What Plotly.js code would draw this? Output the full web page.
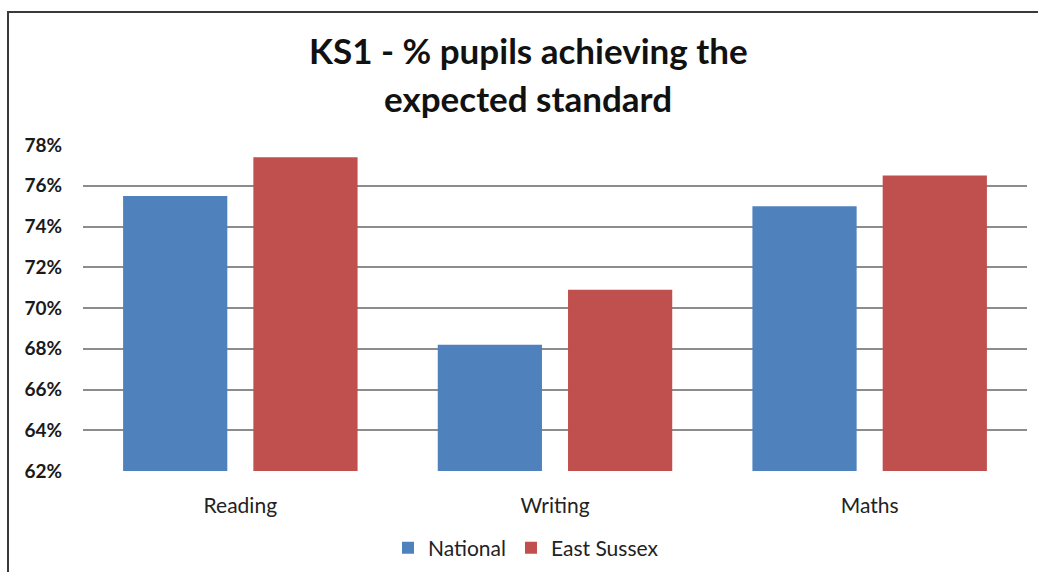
<!DOCTYPE html>
<html>
<head>
<meta charset="utf-8">
<script src="https://cdn.plot.ly/plotly-3.0.1.min.js"></script>
<style>
html,body{margin:0;padding:0;background:#fff;}
#chart{width:1038px;height:572px;}
</style>
</head>
<body>
<div id="chart"></div>
<script>
const categories = ["Reading", "Writing", "Maths"];
const nationalValues = [0.755, 0.682, 0.750];
const eastSussexValues = [0.774, 0.709, 0.765];
const seriesNames = ["National", "East Sussex"];
const yTickValues = [0.62, 0.64, 0.66, 0.68, 0.70, 0.72, 0.74, 0.76, 0.78];
const titleLines = ["KS1 - % pupils achieving the", "expected standard"];

const W = 1038, H = 572;
const L = 83, R = 11, T = 145, B = 101;
const pw = W - L - R, ph = H - T - B;
const px = x => (x - L) / pw;
const py = y => (H - B - y) / ph;

const FONT = "Lato, 'Open Sans', sans-serif";

const traces = [
  {type: "bar", name: seriesNames[0], x: categories, y: nationalValues,
   marker: {color: "#4f81bd"}, hoverinfo: "skip"},
  {type: "bar", name: seriesNames[1], x: categories, y: eastSussexValues,
   marker: {color: "#c0504d"}, hoverinfo: "skip"}
];

const layout = {
  width: W, height: H, autosize: false,
  margin: {l: L, r: R, t: T, b: B, pad: 0, autoexpand: false},
  paper_bgcolor: "#ffffff", plot_bgcolor: "#ffffff",
  barmode: "group", bargap: 0.172, bargroupgap: 0.2,
  showlegend: true,
  legend: {orientation: "h", x: px(526), xanchor: "center", y: py(548), yanchor: "middle",
           font: {family: FONT, size: 21, color: "#222"}, itemwidth: 30, traceorder: "normal"},
  xaxis: {type: "category", showgrid: false, zeroline: false, showline: false,
          ticks: "", tickfont: {family: FONT, size: 21, color: "#222"}, ticklabelstandoff: 20},
  yaxis: {range: [0.62, 0.78], tickvals: yTickValues, tickformat: ".0%",
          showgrid: true, gridcolor: "#8c8c8c", gridwidth: 2, zeroline: false, showline: false,
          ticks: "", tickfont: {family: FONT, size: 19, color: "#1a1a1a", weight: "bold"},
          ticklabelstandoff: 20},
  annotations: [
    {xref: "paper", yref: "paper", x: px(528), y: py(50), xanchor: "center", yanchor: "middle",
     showarrow: false, text: "<b>" + titleLines[0] + "</b>", font: {family: FONT, size: 35, color: "#111"}},
    {xref: "paper", yref: "paper", x: px(528), y: py(98), xanchor: "center", yanchor: "middle",
     showarrow: false, text: "<b>" + titleLines[1] + "</b>", font: {family: FONT, size: 35, color: "#111"}}
  ],
  shapes: [
    {type: "rect", xref: "paper", yref: "paper", x0: px(8), x1: px(1060), y0: py(590), y1: py(12),
     line: {color: "#3a3a3a", width: 2}, fillcolor: "rgba(0,0,0,0)", layer: "above"}
  ]
};

Plotly.newPlot("chart", traces, layout, {staticPlot: true, displayModeBar: false});
</script>
</body>
</html>
